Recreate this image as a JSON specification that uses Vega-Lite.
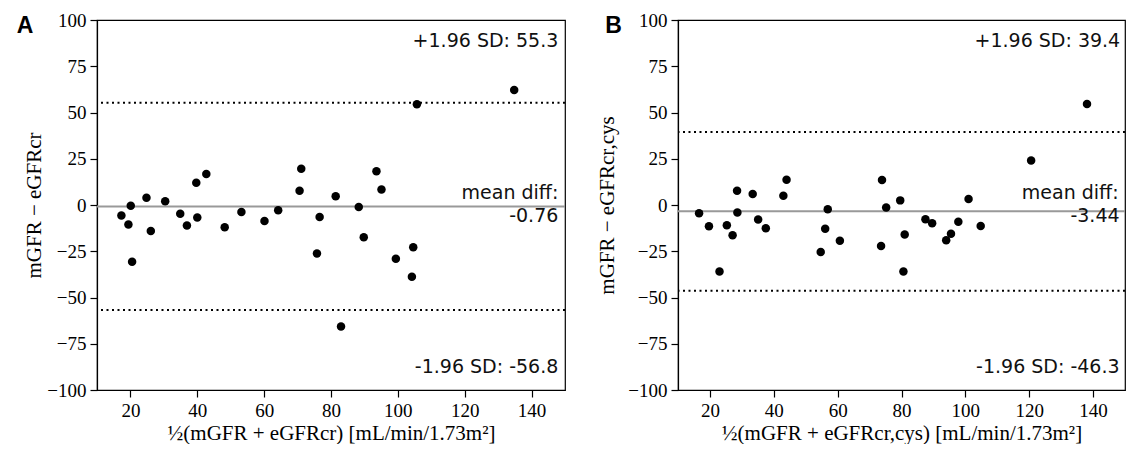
{
  "$schema": "https://vega.github.io/schema/vega-lite/v6.json",
  "padding": {"left": 16, "top": 10, "right": 5, "bottom": 0},
  "background": "white",
  "spacing": 28,
  "datasets": {
    "ptsA": [
      {"avg": 17.3, "diff": -5.7}, {"avg": 19.4, "diff": -10.6}, {"avg": 20.1, "diff": -0.4}, {"avg": 20.5, "diff": -30.7},
      {"avg": 24.8, "diff": 3.9}, {"avg": 26.1, "diff": -14.0}, {"avg": 30.4, "diff": 2.0}, {"avg": 34.9, "diff": -4.7},
      {"avg": 36.9, "diff": -11.1}, {"avg": 39.7, "diff": 12.0}, {"avg": 40.0, "diff": -6.8}, {"avg": 42.7, "diff": 16.7},
      {"avg": 48.2, "diff": -12.0}, {"avg": 53.2, "diff": -3.8}, {"avg": 60.1, "diff": -8.6}, {"avg": 64.2, "diff": -2.9},
      {"avg": 70.6, "diff": 7.7}, {"avg": 71.1, "diff": 19.6}, {"avg": 75.8, "diff": -26.2}, {"avg": 76.6, "diff": -6.5},
      {"avg": 81.4, "diff": 4.7}, {"avg": 83.0, "diff": -65.7}, {"avg": 88.3, "diff": -1.1}, {"avg": 89.8, "diff": -17.4},
      {"avg": 93.6, "diff": 18.3}, {"avg": 95.1, "diff": 8.4}, {"avg": 99.4, "diff": -29.1}, {"avg": 104.2, "diff": -38.8},
      {"avg": 104.6, "diff": -22.8}, {"avg": 105.7, "diff": 54.4}, {"avg": 134.8, "diff": 62.1}
    ],
    "ptsB": [
      {"avg": 16.6, "diff": -4.5}, {"avg": 19.7, "diff": -11.5}, {"avg": 23.0, "diff": -36.0}, {"avg": 25.3, "diff": -11.0},
      {"avg": 27.1, "diff": -16.4}, {"avg": 28.5, "diff": 7.7}, {"avg": 28.6, "diff": -4.1}, {"avg": 33.4, "diff": 5.9},
      {"avg": 35.1, "diff": -7.9}, {"avg": 37.5, "diff": -12.6}, {"avg": 43.0, "diff": 5.0}, {"avg": 44.0, "diff": 13.7},
      {"avg": 54.7, "diff": -25.4}, {"avg": 56.1, "diff": -12.8}, {"avg": 56.9, "diff": -2.3}, {"avg": 60.7, "diff": -19.3},
      {"avg": 73.6, "diff": -22.2}, {"avg": 73.9, "diff": 13.5}, {"avg": 75.2, "diff": -1.4}, {"avg": 79.6, "diff": 2.5},
      {"avg": 80.6, "diff": -36.0}, {"avg": 81.0, "diff": -15.9}, {"avg": 87.5, "diff": -7.7}, {"avg": 89.6, "diff": -9.9},
      {"avg": 94.0, "diff": -19.1}, {"avg": 95.5, "diff": -15.5}, {"avg": 97.8, "diff": -9.0}, {"avg": 101.0, "diff": 3.2},
      {"avg": 104.8, "diff": -11.4}, {"avg": 120.6, "diff": 24.0}, {"avg": 138.1, "diff": 54.6}
    ],
    "sdA": [{"v": 55.3}, {"v": -56.8}],
    "meanA": [{"v": -0.76}],
    "sdB": [{"v": 39.4}, {"v": -46.3}],
    "meanB": [{"v": -3.44}],
    "one": [{"k": 1}]
  },
  "hconcat": [
    {
      "width": 468,
      "height": 370,
      "layer": [
        {
          "data": {"name": "meanA"},
          "mark": {"type": "rule", "color": "#999999", "strokeWidth": 2},
          "encoding": {"y": {"field": "v", "type": "quantitative", "scale": {"domain": [-100, 100], "nice": false}}}
        },
        {
          "data": {"name": "sdA"},
          "mark": {"type": "rule", "color": "black", "strokeWidth": 2, "strokeDash": [2, 3.5]},
          "encoding": {"y": {"field": "v", "type": "quantitative"}}
        },
        {
          "data": {"name": "ptsA"},
          "mark": {"type": "circle", "size": 72, "color": "black", "opacity": 1},
          "encoding": {
            "x": {"field": "avg", "type": "quantitative", "scale": {"domain": [10, 150], "nice": false, "zero": false},
                  "axis": {"values": [20, 40, 60, 80, 100, 120, 140], "title": "½(mGFR + eGFRcr) [mL/min/1.73m²]"}},
            "y": {"field": "diff", "type": "quantitative",
                  "axis": {"values": [-100, -75, -50, -25, 0, 25, 50, 75, 100], "title": "mGFR − eGFRcr", "minExtent": 55, "maxExtent": 55, "titlePadding": 2, "titleBaseline": "alphabetic"}}
          }
        },
        {"data": {"name": "one"}, "mark": {"type": "text", "text": "+1.96 SD: 55.3", "align": "right", "baseline": "middle", "font": "DejaVu Sans", "fontSize": 19, "color": "#111"},
         "encoding": {"x": {"datum": 148}, "y": {"datum": 88.4}}},
        {"data": {"name": "one"}, "mark": {"type": "text", "text": "mean diff:", "align": "right", "baseline": "middle", "font": "DejaVu Sans", "fontSize": 19, "color": "#111"},
         "encoding": {"x": {"datum": 148}, "y": {"datum": 6.7}}},
        {"data": {"name": "one"}, "mark": {"type": "text", "text": "-0.76", "align": "right", "baseline": "middle", "font": "DejaVu Sans", "fontSize": 19, "color": "#111"},
         "encoding": {"x": {"datum": 148}, "y": {"datum": -5.9}}},
        {"data": {"name": "one"}, "mark": {"type": "text", "text": "-1.96 SD: -56.8", "align": "right", "baseline": "middle", "font": "DejaVu Sans", "fontSize": 19, "color": "#111"},
         "encoding": {"x": {"datum": 148}, "y": {"datum": -87.6}}},
        {"data": {"name": "one"}, "mark": {"type": "text", "text": "A", "align": "center", "baseline": "middle", "font": "Liberation Sans", "fontWeight": "bold", "fontSize": 23, "color": "black"},
         "encoding": {"x": {"datum": -11.5}, "y": {"datum": 96.5}}}
      ]
    },
    {
      "width": 447,
      "height": 370,
      "layer": [
        {
          "data": {"name": "meanB"},
          "mark": {"type": "rule", "color": "#999999", "strokeWidth": 2},
          "encoding": {"y": {"field": "v", "type": "quantitative", "scale": {"domain": [-100, 100], "nice": false}}}
        },
        {
          "data": {"name": "sdB"},
          "mark": {"type": "rule", "color": "black", "strokeWidth": 2, "strokeDash": [2, 3.5]},
          "encoding": {"y": {"field": "v", "type": "quantitative"}}
        },
        {
          "data": {"name": "ptsB"},
          "mark": {"type": "circle", "size": 72, "color": "black", "opacity": 1},
          "encoding": {
            "x": {"field": "avg", "type": "quantitative", "scale": {"domain": [10, 150], "nice": false, "zero": false},
                  "axis": {"values": [20, 40, 60, 80, 100, 120, 140], "title": "½(mGFR + eGFRcr,cys) [mL/min/1.73m²]"}},
            "y": {"field": "diff", "type": "quantitative",
                  "axis": {"values": [-100, -75, -50, -25, 0, 25, 50, 75, 100], "title": "mGFR − eGFRcr,cys", "minExtent": 55, "maxExtent": 55, "titlePadding": 10, "titleBaseline": "alphabetic"}}
          }
        },
        {"data": {"name": "one"}, "mark": {"type": "text", "text": "+1.96 SD: 39.4", "align": "right", "baseline": "middle", "font": "DejaVu Sans", "fontSize": 19, "color": "#111"},
         "encoding": {"x": {"datum": 148.5}, "y": {"datum": 88.4}}},
        {"data": {"name": "one"}, "mark": {"type": "text", "text": "mean diff:", "align": "right", "baseline": "middle", "font": "DejaVu Sans", "fontSize": 19, "color": "#111"},
         "encoding": {"x": {"datum": 148}, "y": {"datum": 6.5}}},
        {"data": {"name": "one"}, "mark": {"type": "text", "text": "-3.44", "align": "right", "baseline": "middle", "font": "DejaVu Sans", "fontSize": 19, "color": "#111"},
         "encoding": {"x": {"datum": 148.3}, "y": {"datum": -5.9}}},
        {"data": {"name": "one"}, "mark": {"type": "text", "text": "-1.96 SD: -46.3", "align": "right", "baseline": "middle", "font": "DejaVu Sans", "fontSize": 19, "color": "#111"},
         "encoding": {"x": {"datum": 148.3}, "y": {"datum": -87.8}}},
        {"data": {"name": "one"}, "mark": {"type": "text", "text": "B", "align": "center", "baseline": "middle", "font": "Liberation Sans", "fontWeight": "bold", "fontSize": 23, "color": "black"},
         "encoding": {"x": {"datum": -10.2}, "y": {"datum": 97}}}
      ]
    }
  ],
  "config": {
    "view": {"stroke": "black", "strokeWidth": 1.2},
    "axis": {
      "grid": false,
      "domainColor": "black",
      "domainWidth": 1.2,
      "tickColor": "black",
      "tickSize": 7,
      "tickWidth": 1.2,
      "labelColor": "black",
      "labelFont": "Liberation Serif",
      "labelFontSize": 19,
      "labelPadding": 4,
      "titleColor": "black",
      "titleFont": "Liberation Serif",
      "titleFontSize": 21,
      "titleFontWeight": "normal"
    },
    "axisX": {"titlePadding": 2, "labelFlush": false},
    "axisY": {"labelFlush": false}
  }
}
